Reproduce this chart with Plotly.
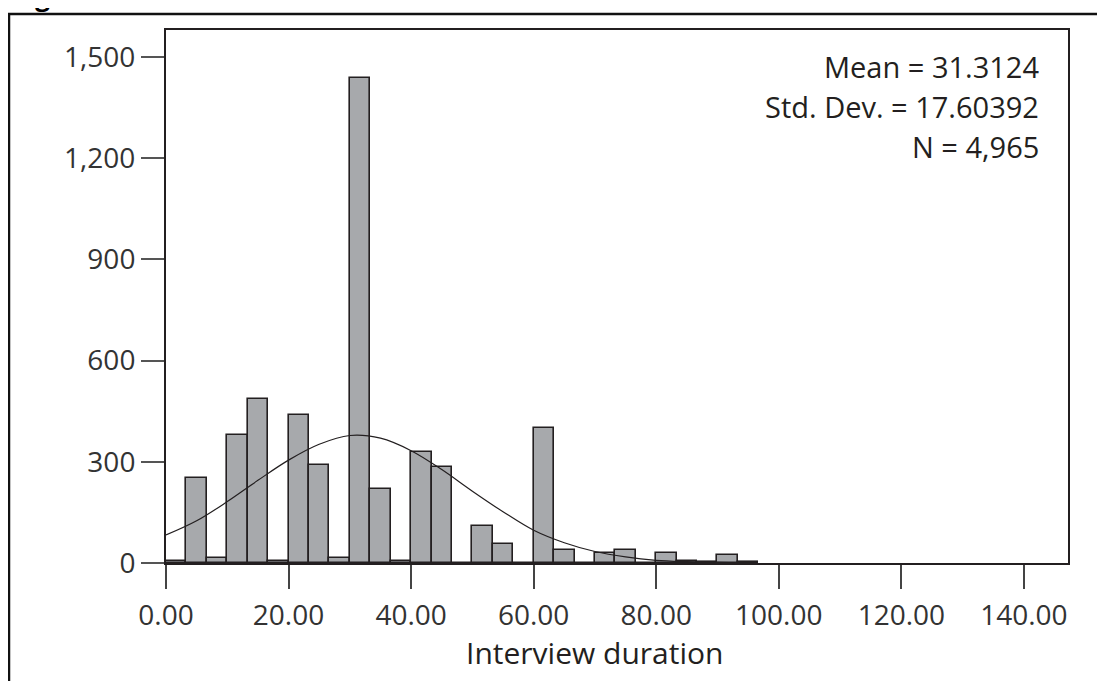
import plotly.graph_objects as go

# ---- data ----
bin_width = 10.0 / 3.0
bin_counts = [7, 253, 16, 378, 486, 7, 439, 291, 16, 1439, 220, 7, 330, 284, 0,
              110, 55, 0, 401, 39, 0, 31, 39, 0, 31, 6, 4, 24, 3]
curve_x = [0, 5, 10, 15, 20, 25, 30, 35, 40, 45, 50, 55, 60, 65, 70, 75, 80, 85, 90, 95.5]
curve_y = [83, 125, 182, 245, 305, 352, 378, 370, 333, 277, 213, 152, 97, 60, 34, 18, 8, 4, 2, 0]
x_ticks = [0, 20, 40, 60, 80, 100, 120, 140]
x_tick_labels = ["0.00", "20.00", "40.00", "60.00", "80.00", "100.00", "120.00", "140.00"]
y_ticks = [0, 300, 600, 900, 1200, 1500]
y_tick_labels = ["0", "300", "600", "900", "1,200", "1,500"]
stats_lines = ["Mean = 31.3124", "Std. Dev. = 17.60392", "N = 4,965"]
x_title = "Interview duration"
fig_label = "Figure"

FONT = "Open Sans"
TXT = "#231f20"

bin_centers = [bin_width * (i + 0.5) for i in range(len(bin_counts))]

fig = go.Figure()
fig.add_trace(go.Bar(
    x=bin_centers, y=bin_counts, width=bin_width,
    marker=dict(color="#a7a9ac", line=dict(color="#231f20", width=1.6)),
    showlegend=False, hoverinfo="skip",
))
fig.add_trace(go.Scatter(
    x=curve_x, y=curve_y, mode="lines", line=dict(color="#231f20", width=1.2, shape="spline"),
    showlegend=False, hoverinfo="skip",
))

OFF = 8  # default page body margin
W, H = 1105 - OFF, 681 - OFF
L, R, T, B = 166 - OFF, 1105 - 1068, 30 - OFF, 681 - 563
pw, ph = W - L - R, H - T - B

def px_x(p):  # page pixel -> paper
    return (p - OFF - L) / pw

def px_y(p):
    return (H - B - (p - OFF)) / ph

fig.update_layout(
    width=W, height=H,
    margin=dict(l=L, r=R, t=T, b=B, pad=0),
    paper_bgcolor="white", plot_bgcolor="white",
    font=dict(family=FONT, size=28, color=TXT),
    bargap=0,
    xaxis=dict(
        range=[0, 147.2], tickmode="array", tickvals=x_ticks, ticktext=x_tick_labels,
        ticks="outside", ticklen=24, tickwidth=1.5, tickcolor="#444",
        showgrid=False, zeroline=False, showline=True, mirror=True,
        linecolor="#231f20", linewidth=2, ticklabelstandoff=2,
        tickfont=dict(family=FONT, size=28, color="#333"),
    ),
    yaxis=dict(
        range=[0, 1580], tickmode="array", tickvals=y_ticks, ticktext=y_tick_labels,
        ticks="outside", ticklen=23, tickwidth=1.5, tickcolor="#555",
        showgrid=False, zeroline=False, showline=True, mirror=True,
        linecolor="#231f20", linewidth=2, ticklabelstandoff=0,
        tickfont=dict(family=FONT, size=28, color="#333"),
    ),
)

# stats text
for line, yc in zip(stats_lines, [66, 107, 146]):
    fig.add_annotation(
        x=px_x(1041), y=px_y(yc), xref="paper", yref="paper",
        text=line, showarrow=False, xanchor="right", yanchor="middle",
        font=dict(family=FONT, size=29, color=TXT),
    )

# axis title
fig.add_annotation(
    x=px_x(594), y=px_y(653), xref="paper", yref="paper",
    text=x_title, showarrow=False, xanchor="center", yanchor="middle",
    font=dict(family=FONT, size=30, color=TXT),
)

# partially clipped figure label at the very top
fig.add_annotation(
    x=px_x(11), y=px_y(-4), xref="paper", yref="paper",
    text="<b>" + fig_label + "</b>", showarrow=False, xanchor="left", yanchor="middle",
    font=dict(family=FONT, size=26, color="#000"),
)

# outer frame (left and top edges)
fig.add_shape(type="line", xref="paper", yref="paper",
              x0=px_x(9), x1=px_x(9), y0=px_y(14), y1=px_y(700),
              line=dict(color="#111", width=2.5))
fig.add_shape(type="line", xref="paper", yref="paper",
              x0=px_x(8), x1=px_x(1120), y0=px_y(14), y1=px_y(14),
              line=dict(color="#111", width=2.5))

fig.write_html("out.html")
